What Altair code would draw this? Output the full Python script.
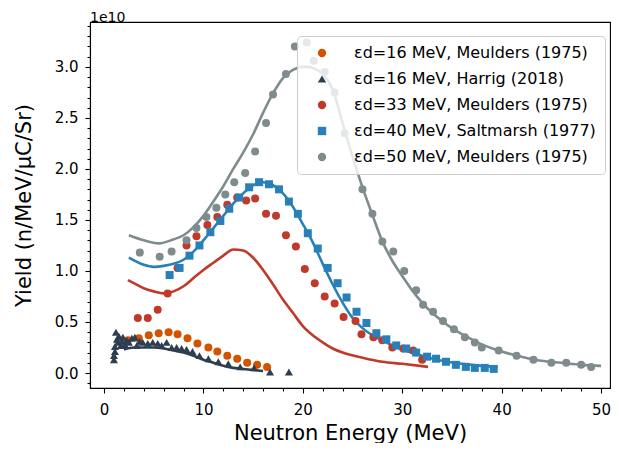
import altair as alt
import pandas as pd

# ---- data (yield in units of 1e10 n/MeV/uC/Sr) ----
labels = [
    "εd=16 MeV, Meulders (1975)",
    "εd=16 MeV, Harrig (2018)",
    "εd=33 MeV, Meulders (1975)",
    "εd=40 MeV, Saltmarsh (1977)",
    "εd=50 MeV, Meulders (1975)",
]
colors = ["#d35400", "#2c3e50", "#c0392b", "#2980b9", "#7f8c8d"]
shapes = ["circle", "triangle-up", "circle", "square", "circle"]

m16_x = [2.4, 3.5, 4.5, 5.5, 6.5, 7.4, 8.4, 9.4, 10.5, 11.4, 12.4, 13.4, 14.4, 15.4, 16.4]
m16_y = [0.32, 0.34, 0.37, 0.39, 0.40, 0.38, 0.34, 0.29, 0.25, 0.21, 0.17, 0.14, 0.10, 0.08, 0.06]

h16_x = [1.0, 1.0, 1.1, 1.1, 1.2, 1.3, 1.4, 1.5, 1.7, 1.8, 1.9, 2.1, 2.3, 2.5, 2.8, 3.1, 3.3, 3.6,
         3.9, 4.4, 4.9, 5.4, 5.8, 6.3, 6.8, 7.3, 7.8, 8.3, 8.9, 9.6, 10.5, 11.5, 12.5, 13.7, 15.1,
         16.7, 18.6]
h16_y = [0.13, 0.17, 0.21, 0.26, 0.40, 0.33, 0.30, 0.36, 0.27, 0.31, 0.35, 0.28, 0.32, 0.30, 0.34,
         0.35, 0.27, 0.31, 0.30, 0.29, 0.30, 0.29, 0.27, 0.30, 0.25, 0.25, 0.24, 0.23, 0.21, 0.17,
         0.14, 0.11, 0.09, 0.06, 0.05, 0.01, 0.01]

m33_x = [3.4, 4.4, 5.4, 6.4, 7.4, 8.3, 9.3, 10.4, 11.4, 12.4, 13.4, 14.3, 15.2, 16.3, 17.3, 18.3,
         19.3, 20.2, 21.2, 22.2, 23.2, 24.1, 25.3, 25.9, 27.1, 28.0, 29.0, 30.1, 31.1, 32.0]
m33_y = [0.54, 0.54, 0.62, 0.78, 1.03, 1.25, 1.34, 1.45, 1.53, 1.65, 1.72, 1.69, 1.71, 1.56, 1.54,
         1.35, 1.24, 1.02, 0.88, 0.75, 0.68, 0.55, 0.51, 0.38, 0.35, 0.32, 0.25, 0.24, 0.22, 0.13]

s40_x = [6.6, 7.6, 8.6, 9.6, 10.7, 11.7, 12.6, 13.6, 14.6, 15.6, 16.6, 17.6, 18.6, 19.5, 20.5, 21.5,
         22.5, 23.5, 24.4, 25.4, 26.4, 27.4, 28.4, 29.4, 30.4, 31.4, 32.5, 33.4, 34.4, 35.4, 36.4,
         37.3, 38.3, 39.2]
s40_y = [0.96, 1.03, 1.15, 1.25, 1.38, 1.49, 1.61, 1.72, 1.82, 1.87, 1.85, 1.80, 1.68, 1.56, 1.37,
         1.22, 1.03, 0.88, 0.74, 0.60, 0.49, 0.39, 0.33, 0.27, 0.24, 0.20, 0.16, 0.14, 0.11, 0.08,
         0.06, 0.05, 0.05, 0.04]

m50_x = [3.6, 5.6, 6.8, 8.3, 9.3, 10.3, 11.3, 12.2, 13.1, 14.2, 15.2, 16.3, 17.0, 18.3, 19.2, 20.4,
         21.1, 22.2, 23.2, 24.2, 26.0, 27.0, 28.0, 29.1, 30.2, 31.4, 32.1, 33.1, 34.1, 35.2, 36.3,
         37.3, 38.0, 39.7, 41.5, 43.2, 45.0, 46.5, 48.0, 49.0]
m50_y = [1.18, 1.14, 1.19, 1.30, 1.42, 1.53, 1.62, 1.75, 1.87, 1.96, 2.17, 2.45, 2.73, 2.93, 3.20,
         3.24, 3.06, 2.95, 2.75, 2.35, 1.80, 1.56, 1.29, 1.19, 1.00, 0.81, 0.67, 0.60, 0.51, 0.43,
         0.35, 0.30, 0.25, 0.22, 0.17, 0.13, 0.10, 0.10, 0.08, 0.06]

# fitted curves
f16_x = [2.0, 3, 4, 5, 6, 7, 8, 9, 10, 11, 12, 13, 14, 15, 16]
f16_y = [0.23, 0.25, 0.25, 0.25, 0.24, 0.22, 0.20, 0.17, 0.13, 0.10, 0.07, 0.05, 0.04, 0.03, 0.02]

f33_x = [2.4, 3, 4, 5, 6, 7, 8, 9, 10, 11, 12, 13, 14, 15, 16, 17, 18, 19, 20, 21, 22, 23, 24, 26,
         28, 30, 32.6]
f33_y = [0.91, 0.88, 0.83, 0.80, 0.78, 0.80, 0.85, 0.93, 1.01, 1.08, 1.15, 1.21, 1.20, 1.13, 1.01,
         0.87, 0.72, 0.59, 0.46, 0.37, 0.30, 0.24, 0.20, 0.15, 0.11, 0.09, 0.06]

f40_x = [2.5, 4, 5, 6, 7, 8, 9, 10, 11, 12, 13, 14, 15, 16, 17, 18, 19, 20, 21, 22, 23, 24, 25, 26,
         27, 28, 29, 30, 32, 34, 36, 38, 39.6]
f40_y = [1.13, 1.06, 1.04, 1.05, 1.07, 1.11, 1.19, 1.30, 1.42, 1.54, 1.66, 1.76, 1.84, 1.87, 1.84,
         1.76, 1.63, 1.46, 1.28, 1.07, 0.87, 0.69, 0.54, 0.44, 0.37, 0.32, 0.27, 0.23, 0.17, 0.12,
         0.09, 0.07, 0.06]

f50_x = [2.5, 4, 5.5, 7, 8, 9, 10, 11, 12, 13, 14, 15, 16, 17, 18, 19, 20, 20.5, 21, 22, 23, 24, 25,
         26, 27, 28, 29, 30, 31, 32, 33, 34, 35, 36, 37, 38, 40, 42, 44, 46, 48, 50]
f50_y = [1.35, 1.30, 1.27, 1.31, 1.35, 1.43, 1.54, 1.68, 1.83, 2.00, 2.16, 2.34, 2.55, 2.74, 2.89,
         2.97, 3.00, 3.00, 2.99, 2.93, 2.78, 2.45, 2.12, 1.82, 1.55, 1.29, 1.10, 0.95, 0.81, 0.69,
         0.59, 0.51, 0.44, 0.38, 0.33, 0.28, 0.21, 0.16, 0.12, 0.10, 0.08, 0.07]

x_ticks = list(range(0, 52, 2))
y_ticks = [round(i / 10, 1) for i in range(-1, 35)]

# ---- build tables ----
pts = []
for lab, xs, ys in zip(labels, [m16_x, h16_x, m33_x, s40_x, m50_x],
                       [m16_y, h16_y, m33_y, s40_y, m50_y]):
    pts += [{"E": a, "Y": b, "series": lab} for a, b in zip(xs, ys)]
pts = pd.DataFrame(pts)

FONT = "DejaVu Sans"
xscale = alt.Scale(domain=[-1.41, 50.9], nice=False, zero=False)
yscale = alt.Scale(domain=[-0.147, 3.44], nice=False, zero=False)

xaxis = alt.Axis(
    values=x_ticks, title="Neutron Energy (MeV)", grid=False,
    labelExpr="datum.value % 10 === 0 ? datum.label : ''", format="d",
    tickSize={"condition": {"test": "datum.value % 10 === 0", "value": 5}, "value": 3},
    labelOverlap=False, labelFlush=False, labelPadding=9, titlePadding=5,
)
yaxis = alt.Axis(
    values=y_ticks, title="Yield (n/MeV/μC/Sr)", grid=False,
    labelExpr="abs(datum.value*2 - round(datum.value*2)) < 0.001 ? format(datum.value, '.1f') : ''",
    tickSize={"condition": {"test": "abs(datum.value*2 - round(datum.value*2)) < 0.001", "value": 5},
              "value": 3},
    labelOverlap=False, labelFlush=False, labelPadding=7, titlePadding=20,
)


def line_layer(xs, ys, col):
    df = pd.DataFrame({"E": xs, "Y": ys})
    return alt.Chart(df).mark_line(color=col, strokeWidth=2.6, interpolate="monotone").encode(
        x=alt.X("E:Q", scale=xscale, axis=xaxis),
        y=alt.Y("Y:Q", scale=yscale, axis=yaxis),
    )


lines = [
    line_layer(f16_x, f16_y, colors[1]),
    line_layer(f33_x, f33_y, colors[2]),
    line_layer(f40_x, f40_y, colors[3]),
    line_layer(f50_x, f50_y, colors[4]),
]

legend = alt.Legend(
    title=None, orient="none", legendX=207, legendY=14,
    fillColor="rgba(255,255,255,0.8)", strokeColor="#cccccc", cornerRadius=4,
    padding=9, labelFont=FONT, labelFontSize=16, labelColor="black", labelLimit=400,
    symbolSize=70, rowPadding=10, labelOffset=24, symbolOffset=8,
)

points = alt.Chart(pts).mark_point(filled=True, opacity=1, size=64).encode(
    x=alt.X("E:Q", scale=xscale, axis=xaxis),
    y=alt.Y("Y:Q", scale=yscale, axis=yaxis),
    color=alt.Color("series:N", scale=alt.Scale(domain=labels, range=colors), legend=legend,
                    sort=labels),
    shape=alt.Shape("series:N", scale=alt.Scale(domain=labels, range=shapes), legend=legend,
                    sort=labels),
)

chart = alt.layer(*lines, points).properties(
    width=520, height=366,
    title=alt.Title("1e10", anchor="start", frame="group", fontSize=14, font=FONT,
                    fontWeight="normal", color="black", offset=-6),
    autosize=alt.AutoSizeParams(type="none"),
    padding={"left": 82, "top": 14, "right": 2, "bottom": 55},
).configure_view(
    stroke="black", strokeWidth=1.1
).configure_axis(
    labelFont=FONT, titleFont=FONT, labelFontSize=15, titleFontSize=21,
    labelColor="black", titleColor="black", titleFontWeight="normal",
    domainColor="black", tickColor="black", domainWidth=1.1, tickWidth=1.1,
)

chart.save("out.html", embed_options={"renderer": "svg", "actions": False})
